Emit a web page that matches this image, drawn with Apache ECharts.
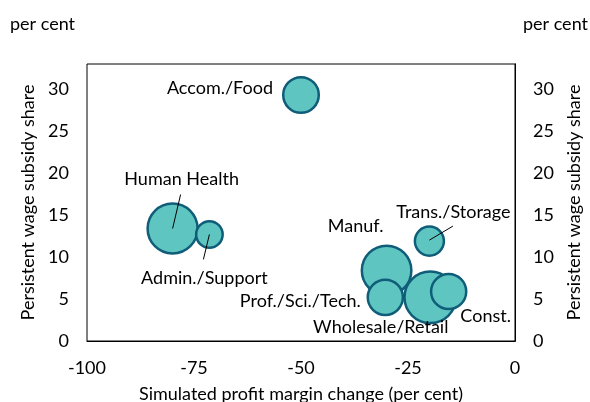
<!DOCTYPE html>
<html>
<head>
<meta charset="utf-8">
<script src="https://cdn.jsdelivr.net/npm/echarts@6/dist/echarts.min.js"></script>
<style>
  html, body { margin: 0; padding: 0; background: #fff; }
  #chart { width: 590px; height: 402px; }
</style>
</head>
<body>
<div id="chart"></div>
<script>
// Industries shown as bubbles
const industries = ['Accom./Food', 'Human Health', 'Admin./Support', 'Manuf.', 'Prof./Sci./Tech.', 'Trans./Storage', 'Wholesale/Retail', 'Const.'];
// Simulated profit margin change (per cent)
const profitChange = [-50, -80, -71.4, -30, -30.3, -20, -19.8, -15.5];
// Persistent wage subsidy share (per cent)
const subsidyShare = [29.3, 13.4, 12.7, 8.4, 5.2, 11.9, 5.2, 5.9];
// Relative bubble weight (industry size)
const bubbleWeight = [8.1, 16.0, 4.5, 15.7, 7.9, 5.4, 17.0, 7.9];

const xTicks = [-100, -75, -50, -25, 0];
const yTicks = [0, 5, 10, 15, 20, 25, 30];

// Label placement relative to each bubble centre (pixels)
const labelPlacement = {
  'Accom./Food':      { offset: [-28, -6.5], align: 'right' },
  'Human Health':     { offset: [9, -49],    align: 'center' },
  'Admin./Support':   { offset: [-5, 43.5],  align: 'center' },
  'Manuf.':           { offset: [-31, -44],  align: 'center' },
  'Prof./Sci./Tech.': { offset: [-24.5, 4],  align: 'right' },
  'Trans./Storage':   { offset: [24, -29],   align: 'center' },
  'Wholesale/Retail': { offset: [-49.5, 30], align: 'center' },
  'Const.':           { offset: [37, 25],    align: 'center' }
};
// Leader lines from a bubble towards its label (pixel offsets: start, end)
const leaders = {
  'Human Health':   [[0, 0], [8, -34]],
  'Admin./Support': [[0, 0], [-6, 25]],
  'Trans./Storage': [[0, -1], [23.5, -15]]
};

const FONT = 'Lato, "Open Sans", sans-serif';
const FS = 18;
const FILL = '#5fc5c1';
const EDGE = '#0f5d78';

const bubbleData = industries.map((name, i) => ({
  name,
  value: [profitChange[i], subsidyShare[i], bubbleWeight[i]],
  label: {
    offset: labelPlacement[name].offset,
    align: labelPlacement[name].align
  }
}));

const leaderData = industries
  .map((name, i) => ({ name, value: [profitChange[i], subsidyShare[i]] }))
  .filter(d => leaders[d.name]);

const yAxisBase = {
  type: 'value',
  min: 0,
  max: 33,
  interval: 5,
  axisLine: { show: true, lineStyle: { color: '#000', width: 1 } },
  axisTick: { show: false },
  splitLine: { show: false },
  axisLabel: {
    color: '#000', fontFamily: FONT, fontSize: FS, margin: 18,
    showMaxLabel: false,
    formatter: v => (yTicks.includes(v) ? String(v) : '')
  },
  name: 'Persistent wage subsidy share',
  nameLocation: 'middle',
  nameGap: 45,
  nameTextStyle: { color: '#000', fontFamily: FONT, fontSize: FS }
};

const titleStyle = { color: '#000', fontFamily: FONT, fontSize: FS, fontWeight: 'normal' };

const chart = echarts.init(document.getElementById('chart'), null, { renderer: 'canvas' });
chart.setOption({
  animation: false,
  backgroundColor: '#fff',
  title: [
    { text: 'per cent', left: 5, top: 10, textStyle: titleStyle },
    { text: 'per cent', right: -3, top: 10, textStyle: titleStyle }
  ],
  grid: {
    left: 87, right: 75, top: 64, bottom: 61,
    outerBoundsMode: 'none',
    containLabel: false,
    show: true, borderColor: '#000', borderWidth: 1
  },
  xAxis: {
    type: 'value',
    min: -100,
    max: 0,
    interval: 25,
    axisLine: { show: true, onZero: false, lineStyle: { color: '#000', width: 1 } },
    axisTick: { show: false },
    splitLine: { show: false },
    axisLabel: {
      color: '#000', fontFamily: FONT, fontSize: FS, margin: 18,
      formatter: v => (xTicks.includes(v) ? String(v) : '')
    },
    name: 'Simulated profit margin change (per cent)',
    nameLocation: 'middle',
    nameGap: 44,
    nameTextStyle: { color: '#000', fontFamily: FONT, fontSize: FS }
  },
  yAxis: [
    Object.assign({}, yAxisBase, { position: 'left' }),
    Object.assign({}, yAxisBase, { position: 'right', nameGap: 46 })
  ],
  series: [
    {
      type: 'scatter',
      data: bubbleData,
      symbol: 'circle',
      symbolSize: d => 12.5 * Math.sqrt(d[2]),
      itemStyle: { color: FILL, borderColor: EDGE, borderWidth: 2.5, opacity: 1 },
      label: {
        show: true,
        position: 'inside',
        formatter: p => p.name,
        color: '#000',
        fontFamily: FONT,
        fontSize: FS,
        verticalAlign: 'middle'
      },
      emphasis: { disabled: true },
      z: 2
    },
    {
      type: 'custom',
      data: leaderData,
      renderItem: (params, api) => {
        const name = leaderData[params.dataIndex].name;
        const seg = leaders[name];
        const p = api.coord([api.value(0), api.value(1)]);
        return {
          type: 'line',
          shape: {
            x1: p[0] + seg[0][0], y1: p[1] + seg[0][1],
            x2: p[0] + seg[1][0], y2: p[1] + seg[1][1]
          },
          style: { stroke: '#000', lineWidth: 1 }
        };
      },
      silent: true,
      z: 3
    }
  ]
});
</script>
</body>
</html>
